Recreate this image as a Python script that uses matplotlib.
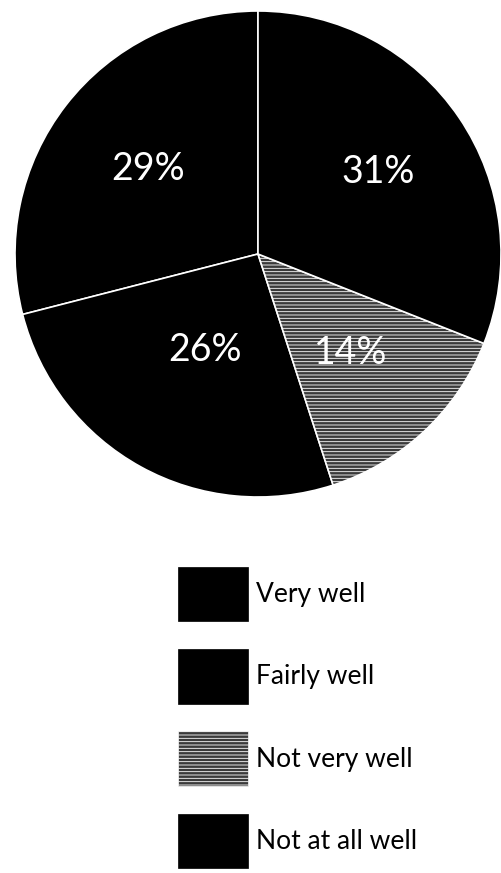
import matplotlib
matplotlib.use("Agg")
import matplotlib.pyplot as plt
from matplotlib.patches import Patch
import numpy as np

categories = ["Very well", "Fairly well", "Not very well", "Not at all well"]
values = [29, 26, 14, 31]
pct_labels = ["29%", "26%", "14%", "31%"]

face_colors = ["#000000", "#000000", "#3a3a3a", "#000000"]
hatches = [None, None, "-----", None]
label_dist = [0.57, 0.45, 0.56, 0.60]

plt.rcParams["hatch.linewidth"] = 0.6
plt.rcParams["font.family"] = ["Lato", "DejaVu Sans"]

fig = plt.figure(figsize=(5.02, 8.73), dpi=100)
fig.patch.set_facecolor("white")

R = 243
cx, cy = 258, 254
ax = fig.add_axes([(cx - R) / 502, 1 - (cy + R) / 873, 2 * R / 502, 2 * R / 873])
wedges, _ = ax.pie(values, startangle=90, counterclock=True, colors=face_colors,
                   wedgeprops=dict(edgecolor="white", linewidth=1.2))
for w, h in zip(wedges, hatches):
    if h:
        w.set_hatch(h)
for w, lab, d in zip(wedges, pct_labels, label_dist):
    ang = np.deg2rad((w.theta1 + w.theta2) / 2)
    ax.text(d * np.cos(ang), d * np.sin(ang), lab, color="white", fontsize=27,
            ha="center", va="center", fontweight="normal")
ax.set_xlim(-1, 1)
ax.set_ylim(-1, 1)
ax.set_aspect("equal")
ax.axis("off")

handles = [Patch(facecolor=c, edgecolor="white" if h else c, hatch=h, linewidth=0.5)
           for c, h in zip(face_colors, hatches)]
fig.legend(handles, categories, loc="upper left", bbox_to_anchor=(178 / 502, 1 - 567 / 873),
           frameon=False, fontsize=19, handlelength=2.65, handleheight=2.8,
           labelspacing=1.05, handletextpad=0.3, borderpad=0, borderaxespad=0)

fig.savefig("out.png", dpi=100, facecolor=fig.get_facecolor())
